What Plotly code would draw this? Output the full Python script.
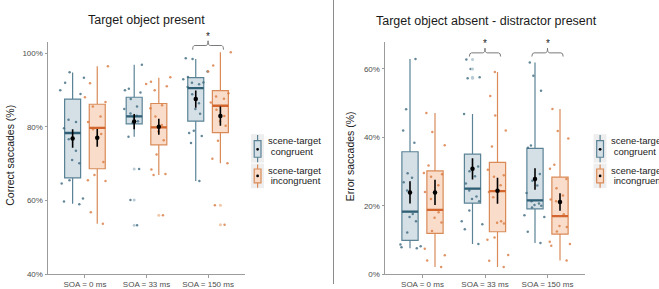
import plotly.graph_objects as go

W, H = 659, 289
FONT = "Liberation Sans, Arial, sans-serif"

# ---------------- data ----------------
categories = ["SOA = 0 ms", "SOA = 33 ms", "SOA = 150 ms"]
cond_labels = ["scene-target", " congruent", "scene-target", " incongruent"]

# Left panel: Correct saccades (%)
left_ticks = [40, 60, 80, 100]
left_cong_q1 = [66.1, 80.8, 81.5]
left_cong_med = [78.3, 82.8, 90.5]
left_cong_q3 = [87.5, 88.0, 93.3]
left_cong_lo = [59.1, 77.3, 65.3]
left_cong_hi = [94.7, 96.8, 98.4]
left_cong_mean = [76.8, 81.4, 87.5]
left_cong_se = [2.5, 2.05, 2.35]
left_inc_q1 = [68.6, 75.1, 78.4]
left_inc_med = [79.7, 79.8, 85.7]
left_inc_q3 = [86.1, 86.3, 89.8]
left_inc_lo = [53.7, 66.9, 70.1]
left_inc_hi = [96.4, 93.3, 100.2]
left_inc_mean = [77.0, 80.0, 82.9]
left_inc_se = [2.4, 2.15, 2.6]
left_cong_pts = [
    [94.8, 93.3, 91.9, 89.9, 88.9, 81.9, 81.3, 79.6, 76.6, 73.5, 71.0, 70.1, 65.5, 64.6, 60.5, 59.7, 59.0],
    [96.8, 90.3, 89.9, 89.3, 87.5, 85.5, 84.8, 83.6, 83.0, 82.5, 81.5, 81.0, 77.3, 68.5, 60.1, 53.3],
    [98.6, 98.4, 95.0, 93.5, 92.9, 92.0, 91.9, 91.5, 90.8, 88.8, 86.4, 84.8, 83.5, 78.9, 78.3, 77.5, 75.6, 65.3],
]
left_inc_pts = [
    [96.4, 91.8, 88.0, 86.7, 85.5, 82.8, 81.3, 79.3, 78.0, 76.8, 70.4, 66.9, 65.5, 65.3, 56.8, 53.7],
    [93.4, 92.2, 91.6, 91.0, 89.9, 85.8, 85.0, 82.8, 80.5, 78.7, 76.3, 72.5, 68.4, 67.2, 66.9, 56.0],
    [100.2, 96.6, 95.0, 89.1, 88.2, 87.6, 86.6, 84.6, 82.9, 81.5, 80.3, 76.2, 71.3, 70.1, 58.7, 53.4],
]
left_sig = [2]

# Right panel: Error saccades (%)
right_ticks = [0, 20, 40, 60]
right_cong_q1 = [9.9, 20.8, 19.1]
right_cong_med = [18.3, 25.0, 21.6]
right_cong_q3 = [35.8, 35.1, 36.8]
right_cong_lo = [7.6, 8.8, 9.1]
right_cong_hi = [62.9, 46.8, 61.9]
right_cong_mean = [23.9, 30.8, 27.8]
right_cong_se = [3.25, 3.1, 3.15]
right_inc_q1 = [11.9, 12.4, 11.7]
right_inc_med = [18.8, 24.3, 17.0]
right_inc_q3 = [30.2, 32.7, 28.4]
right_inc_lo = [2.1, 2.1, 4.0]
right_inc_hi = [47.1, 59.1, 48.3]
right_inc_mean = [23.9, 24.4, 21.1]
right_inc_se = [3.7, 3.8, 2.55]
right_cong_pts = [
    [62.9, 48.2, 42.0, 38.4, 29.5, 28.2, 26.9, 24.5, 17.6, 16.7, 15.5, 12.2, 8.7, 8.2, 7.9, 7.6],
    [46.8, 31.5, 30.1, 28.6, 26.5, 24.5, 22.7, 22.0, 21.3, 18.6, 15.5, 14.6, 13.1, 8.8, 62.8, 60.0, 57.6, 57.3],
    [61.9, 58.0, 53.6, 37.6, 37.0, 29.3, 27.3, 25.9, 23.7, 21.3, 20.7, 20.2, 20.0, 19.5, 17.2, 16.7, 12.4, 9.1],
]
right_inc_pts = [
    [47.1, 41.6, 37.7, 31.8, 29.6, 29.2, 28.5, 26.0, 24.0, 22.0, 18.1, 16.5, 15.1, 12.6, 7.4, 5.5, 4.0, 2.1],
    [59.1, 52.1, 46.4, 42.0, 37.3, 30.5, 28.9, 28.5, 26.0, 24.0, 22.5, 15.5, 15.0, 14.8, 10.7, 10.1, 5.6, 3.9, 2.1],
    [48.3, 41.9, 39.7, 32.0, 30.8, 27.8, 25.1, 23.0, 21.8, 21.3, 17.5, 14.1, 13.8, 12.5, 9.5, 8.8, 8.3, 4.0],
]
right_sig = [1, 2]

# ---------------- styles ----------------
COND = {
    "cong": dict(fill="#d5dfe6", edge="#5a8396", med="#2f5f75", pt="#3d6a80", pale="#b9cbd5"),
    "inc": dict(fill="#f9dcc9", edge="#d98a57", med="#d2662e", pt="#d97a40", pale="#f2c8ab"),
}
DODGE = 0.2
BOXW = 0.26
JITW = 0.44

fig = go.Figure()


def px_x(p):
    return p / W


def px_y(p):
    return 1 - p / H


def add_group(xa, ya, key, sign, q1, med, q3, lo, hi, mean, se, pts):
    c = COND[key]
    pos = [i + sign * DODGE for i in range(len(categories))]
    fig.add_trace(go.Box(
        x=pos, q1=q1, median=med, q3=q3, lowerfence=lo, upperfence=hi,
        width=BOXW, whiskerwidth=0, fillcolor=c["fill"],
        line=dict(color=c["edge"], width=1.2), boxpoints=False,
        xaxis=xa, yaxis=ya, showlegend=False, hoverinfo="skip"))
    for i, p in enumerate(pts):
        fig.add_trace(go.Box(
            x=[pos[i]] * len(p), y=p, width=JITW, boxpoints="all", jitter=1, pointpos=0,
            fillcolor="rgba(0,0,0,0)", line=dict(width=0, color="rgba(0,0,0,0)"),
            marker=dict(size=2.5, color=c["pt"], opacity=0.8),
            xaxis=xa, yaxis=ya, showlegend=False, hoverinfo="skip"))
    ox, oy = [], []
    for i, p in enumerate(pts):
        for v in p:
            if v < lo[i] - 0.5 or v > hi[i] + 0.5:
                ox.append(pos[i])
                oy.append(v)
    fig.add_trace(go.Scatter(
        x=ox, y=oy, mode="markers", marker=dict(size=3, color=c["pale"]),
        xaxis=xa, yaxis=ya, showlegend=False, hoverinfo="skip"))
    mx, my = [], []
    for i in range(len(pos)):
        mx += [pos[i] - BOXW / 2, pos[i] + BOXW / 2, None]
        my += [med[i], med[i], None]
    fig.add_trace(go.Scatter(
        x=mx, y=my, mode="lines", line=dict(color=c["med"], width=2.3),
        xaxis=xa, yaxis=ya, showlegend=False, hoverinfo="skip"))
    fig.add_trace(go.Scatter(
        x=pos, y=mean, mode="markers",
        marker=dict(size=4.5, color="black"),
        error_y=dict(type="data", array=se, color="black", thickness=1.6, width=0),
        xaxis=xa, yaxis=ya, showlegend=False, hoverinfo="skip"))


add_group("x", "y", "cong", -1, left_cong_q1, left_cong_med, left_cong_q3, left_cong_lo,
          left_cong_hi, left_cong_mean, left_cong_se, left_cong_pts)
add_group("x", "y", "inc", 1, left_inc_q1, left_inc_med, left_inc_q3, left_inc_lo,
          left_inc_hi, left_inc_mean, left_inc_se, left_inc_pts)
add_group("x2", "y2", "cong", -1, right_cong_q1, right_cong_med, right_cong_q3, right_cong_lo,
          right_cong_hi, right_cong_mean, right_cong_se, right_cong_pts)
add_group("x2", "y2", "inc", 1, right_inc_q1, right_inc_med, right_inc_q3, right_inc_lo,
          right_inc_hi, right_inc_mean, right_inc_se, right_inc_pts)

AXC = "#9c9c9c"
TICKF = dict(family=FONT, size=8, color="#4d4d4d")
ydom = [px_y(279), px_y(42.7)]


def xaxis(dom, anchor):
    return dict(domain=dom, range=[-0.6, 2.6], tickvals=[0, 1, 2], ticktext=categories,
                showline=True, linecolor=AXC, linewidth=1, ticks="outside", ticklen=2.5,
                tickcolor=AXC, tickfont=TICKF, showgrid=False, zeroline=False,
                anchor=anchor, fixedrange=True)


def yaxis(rng, ticks, anchor):
    return dict(domain=ydom, range=rng, tickvals=ticks, ticktext=[f"{t}%" for t in ticks],
                showline=True, linecolor=AXC, linewidth=1, ticks="outside", ticklen=2.5,
                tickcolor=AXC, tickfont=TICKF, showgrid=False, zeroline=False,
                anchor=anchor, fixedrange=True)


shapes = []
annots = []


def text(x, y, s, size, color="#1a1a1a", xref="paper", xanchor="center", angle=0):
    annots.append(dict(x=x, y=y, xref=xref, yref="paper", text=s, showarrow=False,
                       xanchor=xanchor, yanchor="middle", textangle=angle,
                       font=dict(family=FONT, size=size, color=color)))


def bracket(xref, c, yh, ye, yt, ys):
    x0, x1, d = c - 0.25, c + 0.25, 0.035
    path = (f"M {x0},{px_y(ye)} Q {x0},{px_y(yh)} {x0 + d},{px_y(yh)} "
            f"L {c - d},{px_y(yh)} Q {c},{px_y(yh)} {c},{px_y(yt)} "
            f"Q {c},{px_y(yh)} {c + d},{px_y(yh)} L {x1 - d},{px_y(yh)} "
            f"Q {x1},{px_y(yh)} {x1},{px_y(ye)}")
    shapes.append(dict(type="path", path=path, xref=xref, yref="paper",
                       line=dict(color="#7a7a7a", width=1)))
    text(c, px_y(ys), "*", 10, color="#222222", xref=xref)


for c in left_sig:
    bracket("x", c, 46.3, 50.5, 41.5, 37.5)
for c in right_sig:
    bracket("x2", c, 53.8, 57.5, 49.0, 44.5)

shapes.append(dict(type="line", xref="paper", yref="paper", x0=px_x(333.5), x1=px_x(333.5),
                   y0=0, y1=1, line=dict(color="#8c8c8c", width=1)))

text(px_x(146.5), px_y(20), "Target object present", 12.5)
text(px_x(486.5), px_y(21), "Target object absent - distractor present", 12.5)
text(px_x(10.5), px_y(158), "Correct saccades (%)", 10.5, angle=-90)
text(px_x(350), px_y(159), "Error saccades (%)", 10.5, angle=-90)

for dx in [0, 342.5]:
    for k, (key, ytop, ybot, b0, b1, ymid) in enumerate([
            ("cong", 137.5, 165.0, 143.0, 160.0, 152.0),
            ("inc", 167.5, 191.0, 172.0, 186.0, 179.0)]):
        c = COND[key]
        shapes.append(dict(type="rect", xref="paper", yref="paper",
                           x0=px_x(251 + dx), x1=px_x(264 + dx), y0=px_y(ybot + 0.5), y1=px_y(ytop - 1),
                           fillcolor="#eeeeee", line=dict(width=0), layer="below"))
        shapes.append(dict(type="line", xref="paper", yref="paper",
                           x0=px_x(257.6 + dx), x1=px_x(257.6 + dx), y0=px_y(ybot), y1=px_y(ytop),
                           line=dict(color=c["edge"], width=1.2)))
        shapes.append(dict(type="rect", xref="paper", yref="paper",
                           x0=px_x(254.2 + dx), x1=px_x(261 + dx), y0=px_y(b1), y1=px_y(b0),
                           fillcolor=c["fill"], line=dict(color=c["edge"], width=1.2)))
        shapes.append(dict(type="circle", xref="paper", yref="paper",
                           x0=px_x(256.2 + dx), x1=px_x(259.0 + dx),
                           y0=px_y(ymid + 1.4), y1=px_y(ymid - 1.4),
                           fillcolor="black", line=dict(width=0)))
        ya = 143.3 if k == 0 else 173.0
        text(px_x(266.3 + dx), px_y(ya), cond_labels[2 * k], 9.5, xanchor="left")
        text(px_x(266.3 + dx), px_y(ya + 10.5), cond_labels[2 * k + 1].replace(" ", "\u00a0"),
             9.5, xanchor="left")

fig.update_layout(
    width=W, height=H, margin=dict(l=0, r=0, t=0, b=0, pad=0),
    paper_bgcolor="white", plot_bgcolor="white",
    font=dict(family=FONT),
    boxmode="overlay", showlegend=False,
    xaxis=xaxis([px_x(48), px_x(245)], "y"),
    yaxis=yaxis([40, 103.0], left_ticks, "x"),
    xaxis2=xaxis([px_x(385), px_x(585)], "y2"),
    yaxis2=yaxis([0, 67.9], right_ticks, "x2"),
    shapes=shapes, annotations=annots,
)

fig.write_html("out.html",
               config={"displayModeBar": False, "staticPlot": True},
               post_script="document.body.style.margin='0';document.body.style.overflow='hidden';")
